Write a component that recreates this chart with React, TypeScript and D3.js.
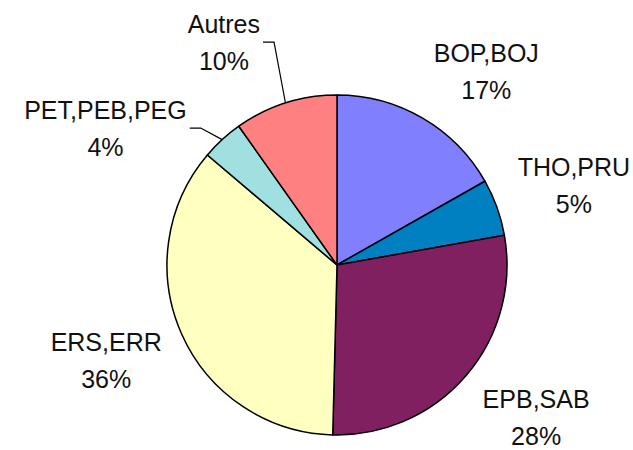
import React, { useEffect, useRef } from 'react';
import * as d3 from 'd3';

// slice values (percent), clockwise from 12 o'clock
const categories = ['BOP,BOJ', 'THO,PRU', 'EPB,SAB', 'ERS,ERR', 'PET,PEB,PEG', 'Autres'];
const values = [16.8, 5.4, 28.2, 35.8, 4.0, 9.8];
const colors = ['#8080FF', '#0080C0', '#802060', '#FFFFC0', '#A0E0E0', '#FF8080'];

// labels that were dragged away from the pie (angle in degrees, distance from centre)
const movedLabels: Record<string, { angle: number; dist: number }> = {
  'PET,PEB,PEG': { angle: 300.6, dist: 269 },
  'Autres': { angle: 333.1, dist: 250 },
};

const width = 633;
const height = 450;
const cx = 337;
const cy = 265;
const radius = 170;
const lineGap = 37;

export default function App() {
  const svgRef = useRef<SVGSVGElement>(null);

  useEffect(() => {
    const svg = d3.select(svgRef.current);
    svg.selectAll('*').remove();

    const data = categories.map((c, i) => ({ name: c, value: values[i], color: colors[i] }));

    const pie = d3.pie<any>().value(d => d.value).sort(null);
    const arcs = pie(data);
    const arc = d3.arc<any>().innerRadius(0).outerRadius(radius);

    const g = svg.append('g').attr('transform', `translate(${cx},${cy})`);

    g.selectAll('path')
      .data(arcs)
      .join('path')
      .attr('d', arc)
      .attr('fill', d => d.data.color)
      .attr('stroke', '#000')
      .attr('stroke-width', 1.5)
      .attr('stroke-linejoin', 'round');

    const labels = g.append('g')
      .attr('font-family', '"Liberation Sans", Arial, sans-serif')
      .attr('font-size', 25)
      .attr('fill', '#111');

    const total = d3.sum(values);

    arcs.forEach(a => {
      const mid = (a.startAngle + a.endAngle) / 2;
      const pct = Math.round((a.data.value / total) * 100) + '%';

      const t = labels.append('text').attr('text-anchor', 'middle');
      t.append('tspan').attr('x', 0).attr('y', -lineGap / 2 + 9).text(a.data.name);
      t.append('tspan').attr('x', 0).attr('y', lineGap / 2 + 9).text(pct);

      const box = (t.node() as SVGTextElement).getBBox();
      const hw = box.width / 2;
      const hh = 28;

      let lx: number;
      let ly: number;
      const moved = movedLabels[a.data.name];
      if (moved) {
        const ang = (moved.angle * Math.PI) / 180;
        lx = Math.sin(ang) * moved.dist;
        ly = -Math.cos(ang) * moved.dist;
      } else {
        const px = Math.sin(mid) * (radius + 22);
        const py = -Math.cos(mid) * (radius + 22);
        const fx = Math.max(-1, Math.min(1, 2 * Math.sin(mid)));
        const fy = Math.max(-1, Math.min(1, 1.5 * Math.cos(mid)));
        lx = px + fx * hw;
        ly = py - fy * hh;
      }
      t.attr('transform', `translate(${lx},${ly})`);

      if (moved) {
        const right = lx + hw;
        const edge = [Math.sin(mid) * radius, -Math.cos(mid) * radius];
        const path = d3.line()([
          [right + 3, ly],
          [right + 14, ly],
          [edge[0], edge[1]],
        ]);
        g.append('path')
          .attr('d', path)
          .attr('fill', 'none')
          .attr('stroke', '#000')
          .attr('stroke-width', 1.2);
      }
    });
  }, []);

  return (
    <svg
      ref={svgRef}
      width={width}
      height={height}
      style={{ position: 'absolute', left: 0, top: 0, background: '#fff' }}
    />
  );
}
